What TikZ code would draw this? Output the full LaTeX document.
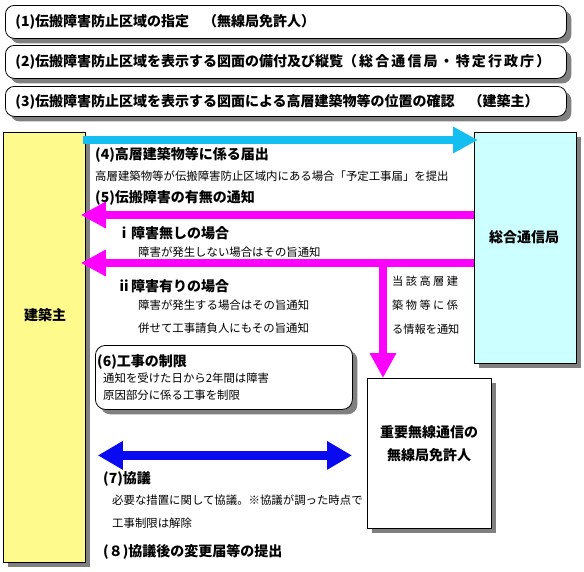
\documentclass[tikz,border=0pt]{standalone}
\usepackage{fontspec}
\setmainfont{Noto Sans CJK JP}
\usetikzlibrary{arrows.meta,shadows,calc,positioning}
\definecolor{reportCyan}{RGB}{20,190,240}
\definecolor{notifyMagenta}{RGB}{255,0,255}
\definecolor{talkBlue}{RGB}{10,10,240}
\definecolor{builderYellow}{RGB}{255,250,140}
\definecolor{bureauCyan}{RGB}{204,255,255}
\definecolor{shadowGray}{RGB}{128,128,128}
\newcommand{\spaced}[2]{{\addfontfeature{LetterSpace=#1}#2}}
\begin{document}
\begin{tikzpicture}[x=1pt,y=-1pt,
        every node/.style={inner sep=0pt},
        shadowed/.style={drop shadow={shadow xshift=5pt,shadow yshift=-5pt,fill=shadowGray,opacity=1}},
        stepbox/.style={shadowed, draw, line width=0.8pt, fill=white, rounded corners=9pt, anchor=north west,
            minimum height=33pt, text width=550pt, inner xsep=10pt, align=left, font=\bfseries\fontsize{14}{16}\selectfont},
        agency/.style={shadowed, draw, line width=0.8pt, anchor=north west},
        agencyname/.style={font=\bfseries\fontsize{14}{23}\selectfont, align=center},
        title/.style={anchor=west, font=\bfseries\fontsize{14}{16}\selectfont},
        note/.style={anchor=west, font=\fontsize{11.4}{13}\selectfont},
        bigarrow/.style={line width=8pt, -{Triangle[width=25pt,length=25pt]}},
    ]
    \useasboundingbox (0,0) rectangle (584,571);
    % procedure steps
    \node[stepbox, text width=541pt] (step1) at (5,5) {(1)伝搬障害防止区域の指定　（無線局免許人）};
    \node[stepbox, text width=541pt] (step2) at (5,45) {(2)伝搬障害防止区域を表示する図面の備付及び縦覧\spaced{15}{（総合通信局・特定行政庁）}};
    \node[stepbox, text width=541pt, minimum height=30pt] (step3) at (5,86) {(3)伝搬障害防止区域を表示する図面による高層建築物等の位置の確認　（建築主）};
    % parties
    \node[agency, fill=builderYellow, minimum width=82pt, minimum height=430pt] (builder) at (3,132) {};
    \node[agencyname] (builderName) at (45,315) {建築主};
    \node[agency, fill=bureauCyan, minimum width=102pt, minimum height=231pt] (bureau) at (474,132) {};
    \node[agencyname] (bureauName) at (524,237) {総合通信局};
    \node[agency, fill=white, minimum width=124pt, minimum height=150pt] (licensee) at (367,378) {};
    \node[agencyname] (licenseeName) at (429,444) {重要無線通信の\\無線局免許人};
    % arrows
    \draw[bigarrow, draw=reportCyan] ($(builder.north east)+(-3,8)$) -- ($(bureau.north west)+(4,8)$);
    \draw[bigarrow, draw=notifyMagenta] ($(bureau.north west)+(0,83)$) -- ($(builder.north east)+(-5,83)$);
    \draw[bigarrow, draw=notifyMagenta] ($(bureau.north west)+(0,131)$) -- ($(builder.north east)+(-5,131)$);
    \coordinate (split) at ($(bureau.north west)+(-91,131)$);
    \draw[bigarrow, draw=notifyMagenta] (split) -- (split |- licensee.north);
    \draw[line width=9pt, draw=talkBlue, {Triangle[width=27pt,length=25pt]}-{Triangle[width=27pt,length=25pt]}]
        ($(builder.east)+(12,108)$) -- ($(licensee.west)+(-15,2)$);
    % (4) and (5)
    \node[title] (report) at (95,155) {(4)高層建築物等に係る届出};
    \node[note] (reportNote) at (95,176) {高層建築物等が伝搬障害防止区域内にある場合「予定工事届」を提出};
    \node[title] (notice) at (95,198) {(5)伝搬障害の有無の通知};
    \node[title] (caseNone) at (117,233) {ⅰ障害無しの場合};
    \node[note] (caseNoneNote) at (138,252) {障害が発生しない場合はその旨通知};
    \node[title] (caseSome) at (117,286) {ⅱ障害有りの場合};
    \node[note] (caseSomeNote) at (138,305) {障害が発生する場合はその旨通知};
    \node[note] (caseSomeNote2) at (138,328) {併せて工事請負人にもその旨通知};
    \node[note, font=\fontsize{11.2}{24}\selectfont, align=left, anchor=north west] (infoNote) at (392,276)
        {\spaced{22}{当該高層建}\\\spaced{22}{築物等に係}\\る情報を通知};
    % (6)
    \node[shadowed, draw, line width=0.8pt, fill=white, rounded corners=10pt, anchor=north west,
        minimum width=257pt, minimum height=64pt] (limit) at (95,345) {};
    \node[title] (limitTitle) at (97,362) {(6)工事の制限};
    \node[note] (limitNote) at (103,378) {通知を受けた日から2年間は障害};
    \node[note] (limitNote2) at (103,395) {原因部分に係る工事を制限};
    % (7) and (8)
    \node[title] (talk) at (103,479) {(7)協議};
    \node[note] (talkNote) at (112,500) {必要な措置に関して協議。※協議が調った時点で};
    \node[note] (talkNote2) at (112,523) {工事制限は解除};
    \node[title] (change) at (103,552) {(８)協議後の変更届等の提出};
\end{tikzpicture}
\end{document}
